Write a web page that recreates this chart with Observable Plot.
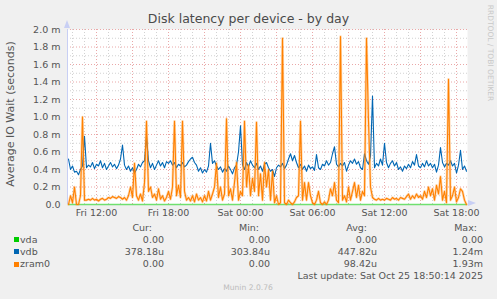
<!DOCTYPE html>
<html>
<head>
<meta charset="utf-8">
<script src="https://cdn.jsdelivr.net/npm/d3@7"></script>
<script src="https://cdn.jsdelivr.net/npm/@observablehq/plot@0.6"></script>
<style>
  html, body { margin: 0; padding: 0; background: #F0F0F0; }
  #wrap { position: relative; width: 497px; height: 299px; background: #F0F0F0; overflow: hidden;
          font-family: "DejaVu Sans", sans-serif; color: #555; }
  #wrap svg { position: absolute; left: 0; top: 0; }
  .t { position: absolute; white-space: nowrap; line-height: 12px; }
</style>
</head>
<body>
<div id="wrap"></div>
<script>
// ---- data (milliseconds of IO wait, one reading every 10 minutes) ----
const title = "Disk latency per device - by day";
const yLabel = "Average IO Wait (seconds)";
const seriesNames = ["vda", "vdb", "zram0"];
const seriesColors = ["#00CC00", "#0066B3", "#FF8000"];
const legendHeaders = ["Cur:", "Min:", "Avg:", "Max:"];
const curValues = ["0.00", "378.18u", "0.00"];
const minValues = ["0.00", "303.84u", "0.00"];
const avgValues = ["0.00", "447.82u", "98.42u"];
const maxValues = ["0.00", "1.24m", "1.93m"];
const lastUpdate = "Last update: Sat Oct 25 18:50:14 2025";
const footer = "Munin 2.0.76";
const sideText = "RRDTOOL / TOBI OETIKER";
const yTicks = [0, 0.2, 0.4, 0.6, 0.8, 1.0, 1.2, 1.4, 1.6, 1.8, 2.0];
const yMinor = [0.1, 0.3, 0.5, 0.7, 0.9, 1.1, 1.3, 1.5, 1.7, 1.9];

const vda = [
  0,0,0,0,0,0,0,0,0,0,0,0,0,0,0,0,0,0,0,0,
  0,0,0,0,0,0,0,0,0,0,0,0,0,0,0,0,0,0,0,0,
  0,0,0,0,0,0,0,0,0,0,0,0,0,0,0,0,0,0,0,0,
  0,0,0,0,0,0,0,0,0,0,0,0,0,0,0,0,0,0,0,0,
  0,0,0,0,0,0,0,0,0,0,0,0,0,0,0,0,0,0,0,0,
  0,0,0,0,0,0,0,0,0,0,0,0,0,0,0,0,0,0,0,0,
  0,0,0,0,0,0,0,0,0,0,0,0,0,0,0,0,0,0,0,0,
  0,0,0,0,0,0,0,0,0,0,0,0,0,0,0,0,0,0,0,0,
  0,0,0,0,0,0,0,0,0,0,0,0,0,0,0,0,0,0,0,0,
  0,0,0,0,0,0,0,0,0,0,0,0,0,0,0,0,0,0,0,0
];
const vdb = [
  0.52,0.40,0.44,0.37,0.38,0.34,0.40,0.44,0.78,0.42,
  0.45,0.43,0.48,0.41,0.46,0.44,0.50,0.42,0.47,0.40,
  0.44,0.48,0.43,0.46,0.41,0.45,0.52,0.68,0.45,0.40,
  0.44,0.38,0.42,0.36,0.40,0.46,0.43,0.48,0.50,0.78,
  0.50,0.42,0.47,0.40,0.45,0.50,0.44,0.48,0.42,0.49,
  0.47,0.50,0.45,0.48,0.42,0.46,0.44,0.48,0.43,0.45,
  0.49,0.52,0.54,0.48,0.45,0.38,0.42,0.36,0.40,0.37,
  0.44,0.70,0.47,0.50,0.44,0.40,0.43,0.37,0.41,0.38,
  0.44,0.40,0.35,0.42,0.45,0.60,0.90,0.45,0.40,0.48,
  0.43,0.50,0.45,0.42,0.47,0.40,0.44,0.38,0.46,0.48,
  0.42,0.38,0.40,0.32,0.42,0.45,0.43,0.47,0.41,0.45,
  0.52,0.58,0.50,0.56,0.48,0.42,0.46,0.40,0.44,0.38,
  0.45,0.41,0.43,0.39,0.57,0.42,0.40,0.46,0.44,0.50,
  0.45,0.48,0.58,0.66,0.46,0.43,0.47,0.44,0.48,0.38,
  0.45,0.50,0.47,0.52,0.46,0.49,0.42,0.40,0.58,0.50,
  0.46,0.55,1.24,0.42,0.47,0.44,0.52,0.45,0.70,0.48,
  0.42,0.47,0.50,0.44,0.48,0.40,0.43,0.38,0.44,0.41,
  0.46,0.42,0.49,0.45,0.57,0.44,0.42,0.47,0.43,0.50,
  0.44,0.47,0.42,0.46,0.37,0.45,0.65,0.48,0.43,0.47,
  0.45,0.50,0.44,0.47,0.36,0.45,0.62,0.40,0.44,0.38
];
const zram0 = [
  0.00,0.10,0.02,0.20,0.00,0.00,0.10,1.00,0.05,0.05,
  0.06,0.05,0.07,0.05,0.06,0.04,0.06,0.07,0.05,0.06,
  0.08,0.07,0.09,0.08,0.07,0.09,0.08,0.06,0.08,0.05,
  0.10,0.20,0.08,0.47,0.10,0.05,0.12,0.04,0.25,0.95,
  0.15,0.20,0.08,0.12,0.05,0.18,0.06,0.10,0.04,0.08,
  0.15,0.06,0.20,0.95,0.10,0.22,0.08,0.95,0.15,0.05,
  0.08,0.04,0.10,0.03,0.12,0.05,0.08,0.03,0.10,0.04,
  0.15,0.05,0.12,0.20,0.47,0.08,0.20,0.05,0.12,0.98,
  0.10,0.18,0.05,0.25,0.48,0.05,0.15,0.10,0.95,0.20,
  0.45,0.10,0.30,0.15,0.94,0.10,0.35,0.05,0.48,0.20,
  0.40,0.05,0.38,0.02,0.10,0.00,0.02,1.90,0.02,0.00,
  0.05,0.02,0.00,0.03,0.08,0.10,0.95,0.05,0.25,0.05,
  0.25,0.10,0.02,0.00,0.05,0.15,0.02,0.00,0.03,0.00,
  0.05,0.18,0.10,0.25,0.05,0.02,1.92,0.05,0.10,0.03,
  0.20,0.05,0.15,0.25,0.08,0.22,0.05,0.15,0.10,1.90,
  0.95,0.20,0.08,0.06,0.05,0.07,0.05,0.06,0.05,0.07,
  0.06,0.05,0.08,0.06,0.07,0.05,0.08,0.07,0.06,0.09,
  0.12,0.06,0.10,0.07,0.12,0.08,0.10,0.06,0.15,0.08,
  0.20,0.10,0.18,0.05,0.22,0.12,0.32,0.05,0.15,0.02,
  1.43,0.05,0.10,0.20,0.03,0.08,0.18,0.15,0.05,0.00
];

// ---- time axis ----
const startMs = Date.UTC(2025, 9, 24, 9, 35);
const endMs = Date.UTC(2025, 9, 25, 18, 55);
const stepMin = 10;
const timeAt = i => new Date(startMs + (i * stepMin + stepMin / 2) * 60000);

const allSeries = [vda, vdb, zram0];
const rows = allSeries.map((vals, s) => vals.map((v, i) => ({t: timeAt(i), v, s: seriesNames[s]})));

const hours = d3.utcHour.range(new Date(startMs), new Date(endMs));
const minorHours = hours.filter(d => d.getUTCHours() % 3 !== 0);
const majorHours = hours.filter(d => d.getUTCHours() % 3 === 0);
const labelHours = hours.filter(d => d.getUTCHours() % 6 === 0);

const chart = Plot.plot({
  width: 497, height: 225,
  marginLeft: 67, marginRight: 30, marginTop: 29, marginBottom: 21,
  style: {background: "transparent", fontFamily: "DejaVu Sans, sans-serif", fontSize: "9.5px", color: "#555", overflow: "visible"},
  x: {type: "utc", domain: [new Date(startMs), new Date(endMs)], ticks: labelHours,
      tickFormat: d3.utcFormat("%a %H:%M"), tickSize: 0, tickPadding: 5, label: null},
  y: {domain: [0, 2], ticks: yTicks, tickFormat: d => d === 0 ? "0.0" : d.toFixed(1) + " m",
      tickSize: 0, tickPadding: 7, label: null},
  marks: [
    Plot.frame({fill: "white", stroke: null}),
    Plot.ruleX(minorHours, {stroke: "#d2d2d2", strokeDasharray: "1,2"}),
    Plot.ruleY(yMinor, {stroke: "#d2d2d2", strokeDasharray: "1,2"}),
    Plot.ruleX(majorHours, {stroke: "#eaa8a8", strokeDasharray: "1,2"}),
    Plot.ruleY(yTicks.filter(d => d > 0), {stroke: "#eaa8a8", strokeDasharray: "1,2"}),
    Plot.ruleX([new Date(startMs)], {stroke: "#c8cff4"}),
    Plot.line(rows[0], {x: "t", y: "v", stroke: seriesColors[0], strokeWidth: 1.5, strokeOpacity: 0.55}),
    Plot.line(rows[1], {x: "t", y: "v", stroke: seriesColors[1], strokeWidth: 1.1}),
    Plot.line(rows[2], {x: "t", y: "v", stroke: seriesColors[2], strokeWidth: 2.6, strokeOpacity: 0.3}),
    Plot.line(rows[2], {x: "t", y: "v", stroke: seriesColors[2], strokeWidth: 1.1})
  ]
});

const wrap = document.getElementById("wrap");
wrap.appendChild(chart);

function place(text, x, y, opts = {}) {
  const el = document.createElement("div");
  el.className = "t";
  el.textContent = text;
  const fs = opts.size || 9.5;
  el.style.fontSize = fs + "px";
  el.style.color = opts.color || "#555";
  el.style.top = (y - 6) + "px";
  if (opts.align === "right") { el.style.left = (x - 300) + "px"; el.style.width = "300px"; el.style.textAlign = "right"; }
  else if (opts.align === "center") { el.style.left = (x - 200) + "px"; el.style.width = "400px"; el.style.textAlign = "center"; }
  else el.style.left = x + "px";
  wrap.appendChild(el);
  return el;
}

// title
place(title, 248.5, 19, {align: "center", size: 12.5, color: "#4a4a4a"});
// y label (rotated)
const yl = place(yLabel, 11, 114, {align: "center", size: 11, color: "#555"});
yl.style.transform = "rotate(-90deg)";
// side text
const st = place(sideText, 490, 53, {align: "center", size: 7.5, color: "#c8c8c8"});
st.style.transform = "rotate(90deg)";

// arrows on the axes
const up = document.createElement("div");
up.style.cssText = "position:absolute;left:64px;top:20px;width:0;height:0;border-left:3.5px solid transparent;border-right:3.5px solid transparent;border-bottom:8px solid #c8cff4;";
wrap.appendChild(up);
const right = document.createElement("div");
right.style.cssText = "position:absolute;left:468px;top:200px;width:0;height:0;border-top:3.5px solid transparent;border-bottom:3.5px solid transparent;border-left:8px solid #c8cff4;";
wrap.appendChild(right);

// legend
const headerRight = [152, 259, 367, 477];
const valueRight = [164, 270, 377, 483];
legendHeaders.forEach((h, j) => place(h, headerRight[j], 228, {align: "right"}));
const rowY = [239.5, 251.7, 264];
seriesNames.forEach((name, i) => {
  const sq = document.createElement("div");
  sq.style.cssText = `position:absolute;left:14px;top:${rowY[i] - 2.5}px;width:5px;height:5px;background:${seriesColors[i]};`;
  wrap.appendChild(sq);
  place(name, 20, rowY[i]);
  [curValues, minValues, avgValues, maxValues].forEach((col, j) => place(col[i], valueRight[j], rowY[i], {align: "right"}));
});
place(lastUpdate, 483, 275.7, {align: "right"});
place(footer, 248, 288, {align: "center", size: 7.6, color: "#bcbcbc"});
</script>
</body>
</html>
